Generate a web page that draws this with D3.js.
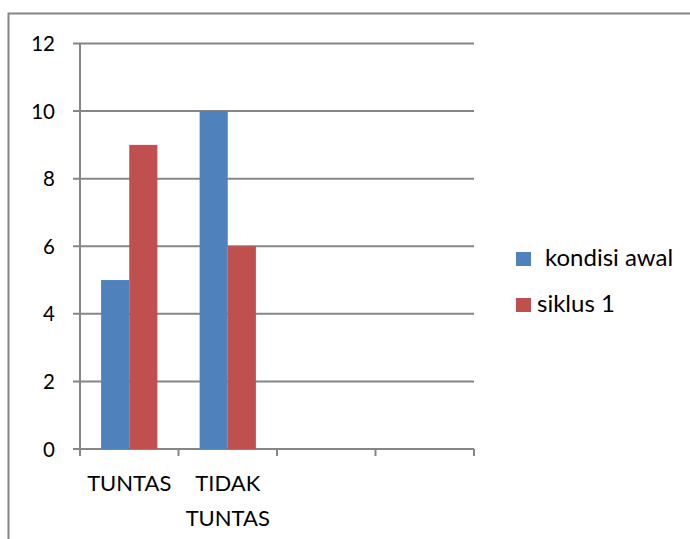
<!DOCTYPE html>
<html>
<head>
<meta charset="utf-8">
<script src="https://cdn.jsdelivr.net/npm/d3@7"></script>
<style>
  html, body { margin: 0; padding: 0; background: #fff; }
  svg { display: block; font-family: "Lato", "Open Sans", sans-serif; }
</style>
</head>
<body>
<svg id="chart" width="690" height="539"></svg>
<script>
// Category slots (two trailing slots are empty)
const categories = ["TUNTAS", "TIDAK TUNTAS", "", " "];
const seriesNames = ["kondisi awal", "siklus 1"];
const kondisiAwal = [5, 10];
const siklus1 = [9, 6];
const yTicks = [0, 2, 4, 6, 8, 10, 12];
const colors = ["#4f81bd", "#c0504d"];

const svg = d3.select("#chart");
const gridColor = "#868686";

// Outer chart frame
svg.append("rect")
  .attr("x", 8.5).attr("y", 13.5)
  .attr("width", 720).attr("height", 560)
  .attr("fill", "none").attr("stroke", gridColor).attr("stroke-width", 2);

const plotLeft = 80, plotRight = 474, plotTop = 43.5, plotBottom = 449;

const x = d3.scaleBand().domain(categories).range([plotLeft, plotRight]).paddingInner(0).paddingOuter(0);
const y = d3.scaleLinear().domain([0, 12]).range([plotBottom, plotTop]);

// Horizontal gridlines with tick stubs
svg.append("g").selectAll("line").data(yTicks).join("line")
  .attr("x1", plotLeft - 7).attr("x2", plotRight)
  .attr("y1", d => y(d)).attr("y2", d => y(d))
  .attr("stroke", gridColor).attr("stroke-width", 2);

// Y tick labels
svg.append("g").selectAll("text").data(yTicks).join("text")
  .attr("x", 55).attr("y", d => y(d) + 7.5)
  .attr("text-anchor", "end")
  .attr("font-size", 20.5).attr("fill", "#000")
  .text(d => d);

// Vertical axis
svg.append("line")
  .attr("x1", plotLeft).attr("x2", plotLeft).attr("y1", plotTop).attr("y2", plotBottom + 1)
  .attr("stroke", gridColor).attr("stroke-width", 2);

// Category boundary ticks
const boundaries = categories.map(c => x(c)).concat([plotRight]);
svg.append("g").selectAll("line").data(boundaries).join("line")
  .attr("x1", d => d).attr("x2", d => d)
  .attr("y1", plotBottom).attr("y2", plotBottom + 7)
  .attr("stroke", gridColor).attr("stroke-width", 2);

// Bars
const inner = d3.scaleBand().domain(seriesNames)
  .range([0, x.bandwidth()]).paddingOuter(0.75).paddingInner(0);
const series = [kondisiAwal, siklus1];
series.forEach((vals, si) => {
  svg.append("g").selectAll("rect").data(vals).join("rect")
    .attr("x", (d, i) => x(categories[i]) + inner(seriesNames[si]))
    .attr("width", inner.bandwidth())
    .attr("y", d => y(d))
    .attr("height", d => y(0) - y(d))
    .attr("fill", colors[si]);
});

// X labels (wrapped words)
const xLab = svg.append("g");
categories.forEach(c => {
  const words = c.trim() ? c.split(" ") : [];
  words.forEach((w, k) => {
    xLab.append("text")
      .attr("x", x(c) + x.bandwidth() / 2)
      .attr("y", 491 + k * 35)
      .attr("text-anchor", "middle")
      .attr("font-size", 22).attr("fill", "#000")
      .text(w);
  });
});

// Legend
const legend = svg.append("g");
const legendBase = [266, 312];
const legendTextX = [545, 537];
seriesNames.forEach((s, i) => {
  legend.append("rect")
    .attr("x", 516).attr("y", legendBase[i] - 14)
    .attr("width", 15).attr("height", 14)
    .attr("fill", colors[i]);
  legend.append("text")
    .attr("x", legendTextX[i]).attr("y", legendBase[i])
    .attr("font-size", 24).attr("fill", "#000")
    .text(s);
});
</script>
</body>
</html>
